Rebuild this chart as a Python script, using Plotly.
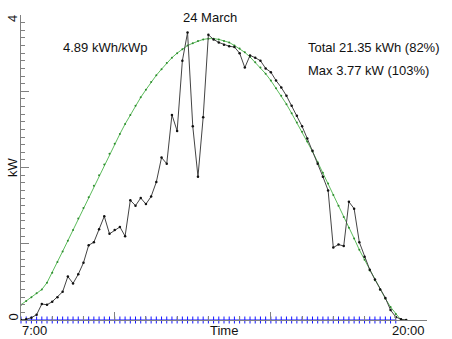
import plotly.graph_objects as go
import pandas as pd

# ---------------- data ----------------
day = "2014-03-24"
times = pd.date_range(f"{day} 07:00", periods=75, freq="10min")

measured_kw = [
    0.00, 0.01, 0.03, 0.07, 0.21, 0.20, 0.24, 0.30, 0.37, 0.57,
    0.48, 0.60, 0.75, 0.98, 1.02, 1.19, 1.36, 1.13, 1.18, 1.22,
    1.10, 1.57, 1.50, 1.60, 1.52, 1.62, 1.81, 2.13, 2.05, 2.69,
    2.48, 3.40, 3.77, 2.54, 1.88, 2.66, 3.74, 3.68, 3.64, 3.61,
    3.59, 3.58, 3.50, 3.31, 3.47, 3.44, 3.40, 3.30, 3.25, 3.14,
    3.05, 2.94, 2.81, 2.68, 2.54, 2.38, 2.22, 2.05, 1.88, 1.70,
    0.95, 0.99, 0.97, 1.55, 1.46, 1.02, 0.83, 0.66, 0.53, 0.40,
    0.29, 0.13, 0.04, 0.01, 0.00,
]

clear_sky_kw = [
    0.20, 0.25, 0.30, 0.35, 0.40, 0.49, 0.62, 0.76, 0.90, 1.04,
    1.18, 1.33, 1.47, 1.61, 1.76, 1.90, 2.04, 2.18, 2.31, 2.44,
    2.57, 2.69, 2.81, 2.92, 3.02, 3.12, 3.21, 3.29, 3.37, 3.44,
    3.50, 3.55, 3.60, 3.63, 3.66, 3.68, 3.69, 3.69, 3.68, 3.66,
    3.64, 3.60, 3.56, 3.51, 3.45, 3.38, 3.31, 3.23, 3.14, 3.04,
    2.94, 2.83, 2.71, 2.59, 2.47, 2.34, 2.21, 2.07, 1.93, 1.79,
    1.64, 1.50, 1.35, 1.21, 1.07, 0.92, 0.79, 0.65, 0.52, 0.40,
    0.28, 0.17, 0.08, 0.00, 0.00,
]

baseline_kw = [0.0] * 73

title_text = "24 March"
yield_text = "4.89 kWh/kWp"
total_text = "Total 21.35 kWh (82%)"
max_text = "Max 3.77 kW (103%)"
x_start_label = "7:00"
x_end_label = "20:00"
x_title = "Time"
y_title = "kW"
y_tick_labels = ["0", "4"]

# ---------------- figure ----------------
W, H = 452, 339
L, R, T, B = 21, 427, 15, 320

fig = go.Figure()

fig.add_trace(go.Scatter(
    x=times[:len(baseline_kw)], y=baseline_kw, mode="lines+markers",
    line=dict(color="#1515ff", width=1.2),
    marker=dict(symbol="line-ns", size=5, line=dict(color="#1515ff", width=1)),
    hoverinfo="skip", showlegend=False, cliponaxis=False))

fig.add_trace(go.Scatter(
    x=times, y=clear_sky_kw, mode="lines+markers",
    line=dict(color="#5cbc5c", width=1),
    marker=dict(symbol="circle", size=2, color="#2e8b2e"),
    showlegend=False))

fig.add_trace(go.Scatter(
    x=times, y=measured_kw, mode="lines+markers",
    line=dict(color="#444444", width=1),
    marker=dict(symbol="circle", size=2.5, color="#111111"),
    showlegend=False))

axis_col = "#808080"

fig.update_xaxes(
    type="date",
    range=[f"{day} 07:00", f"{day} 20:00"],
    showline=True, linecolor=axis_col, linewidth=1,
    showgrid=False, zeroline=False,
    ticks="inside", ticklen=8, tickcolor=axis_col, tickwidth=1,
    tick0=f"{day} 00:00", dtick=5 * 3600000,
    showticklabels=False,
    minor=dict(ticks="inside", ticklen=4, tickcolor=axis_col,
               tick0=f"{day} 00:00", dtick=3600000, showgrid=False),
)

fig.update_yaxes(
    range=[0, 4],
    showline=True, linecolor=axis_col, linewidth=1,
    showgrid=False, zeroline=False,
    ticks="inside", ticklen=8, tickcolor=axis_col, tickwidth=1,
    tick0=0, dtick=1,
    showticklabels=False,
    minor=dict(ticks="inside", ticklen=4, tickcolor=axis_col,
               tick0=0, dtick=0.1, showgrid=False),
)


def px(x):
    return (x - L) / (R - L)


def py(y):
    return (B - y) / (B - T)


font = dict(family="Liberation Sans, Arial, sans-serif", size=13, color="#111111")
anns = [
    dict(text=title_text, x=px(210), y=py(17), xanchor="center", yanchor="middle"),
    dict(text=yield_text, x=px(61), y=py(48), xanchor="left", yanchor="middle"),
    dict(text=total_text, x=px(306), y=py(48), xanchor="left", yanchor="middle"),
    dict(text=max_text, x=px(306), y=py(70.5), xanchor="left", yanchor="middle"),
    dict(text=x_title, x=px(223.5), y=py(330), xanchor="center", yanchor="middle"),
    dict(text=x_start_label, x=px(20), y=py(330), xanchor="left", yanchor="middle"),
    dict(text=x_end_label, x=px(427), y=py(330), xanchor="right", yanchor="middle"),
    dict(text=y_tick_labels[0], x=px(12.5), y=py(317), xanchor="center", yanchor="middle", textangle=-90),
    dict(text=y_tick_labels[1], x=px(13), y=py(19), xanchor="center", yanchor="middle", textangle=-90),
    dict(text=y_title, x=px(12.5), y=py(167.5), xanchor="center", yanchor="middle", textangle=-90),
]
for a in anns:
    a.update(xref="paper", yref="paper", showarrow=False, font=font)

fig.update_layout(
    width=W, height=H,
    margin=dict(l=L, r=W - R, t=T, b=H - B, pad=0),
    paper_bgcolor="white", plot_bgcolor="white",
    annotations=anns,
    showlegend=False,
)

fig.write_html(
    "out.html",
    config={"displayModeBar": False},
    post_script="document.body.style.margin='0';document.body.style.overflow='hidden';",
)
